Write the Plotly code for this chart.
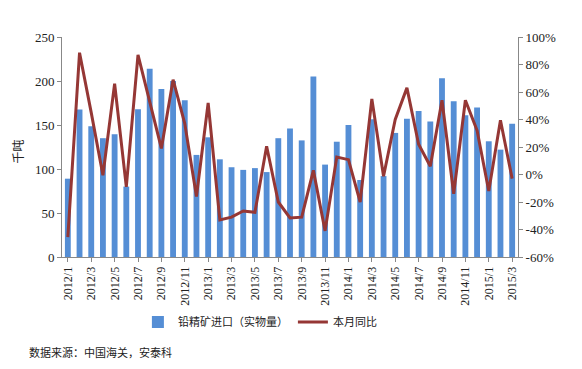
import plotly.graph_objects as go

months = []
for y in (2012, 2013, 2014):
    for m in range(1, 13):
        months.append(f"{y}/{m}")
months += ["2015/1", "2015/2", "2015/3"]

imports = [89, 167.5, 148.5, 135, 139.5, 80, 168, 214, 191, 200, 178, 116,
           136, 111, 102, 99, 101, 96.5, 135, 146, 132.5, 205, 105, 131,
           150, 87.5, 156.5, 92, 141, 157, 166, 154, 203, 177, 161, 170,
           131.5, 122, 151.5]

yoy = [-45.5, 88.6, 45, -0.6, 66, -9, 87, 53, 19, 69, 37, -16,
       52, -33, -31, -26.5, -27.5, 20.5, -20, -31.6, -31, 3, -41, 12.7,
       10.8, -20, 55, -1.3, 40, 63, 22, 6, 54, -14, 54, 32,
       -12, 39.4, -3]

bar_name = "铅精矿进口（实物量）"
line_name = "本月同比"

left_ticks = [0, 50, 100, 150, 200, 250]
right_ticks = [-60, -40, -20, 0, 20, 40, 60, 80, 100]

serif = "Liberation Serif"
cjk = "Noto Sans CJK SC"

fig = go.Figure()
fig.add_trace(go.Bar(x=months, y=imports, name=bar_name,
                     marker=dict(color="#558ED5", line=dict(width=0)),
                     yaxis="y"))
fig.add_trace(go.Scatter(x=months, y=yoy, name=line_name, mode="lines",
                         line=dict(color="#953735", width=3),
                         yaxis="y2"))

fig.update_layout(
    width=574, height=361,
    margin=dict(l=54, r=64, t=29, b=112),
    paper_bgcolor="white", plot_bgcolor="white",
    bargap=0.5,
    showlegend=True,
    legend=dict(orientation="h", x=0.434, xanchor="center", y=-0.295, yanchor="middle",
                font=dict(family=cjk, size=11, color="#222"),
                itemwidth=30, tracegroupgap=0, bgcolor="rgba(0,0,0,0)"),
    xaxis=dict(type="category", tickmode="array",
               tickvals=months[::2], ticktext=months[::2],
               tickangle=-90, tickfont=dict(family=serif, size=12, color="#222"),
               showline=True, linecolor="#888", linewidth=1,
               ticks="outside", ticklen=4, tickcolor="#888",
               showgrid=False, zeroline=False),
    yaxis=dict(range=[0, 250], tickvals=left_ticks,
               tickfont=dict(family=serif, size=13, color="#222"),
               showline=True, linecolor="#888", linewidth=1,
               ticks="outside", ticklen=4, tickcolor="#888",
               showgrid=False, zeroline=False),
    yaxis2=dict(range=[-60, 100], tickvals=right_ticks,
                ticktext=[f"{v}%" for v in right_ticks],
                overlaying="y", side="right",
                tickfont=dict(family=serif, size=13, color="#222"),
                showline=True, linecolor="#888", linewidth=1,
                ticks="outside", ticklen=4, tickcolor="#888",
                showgrid=False, zeroline=False),
    annotations=[
        dict(text="千吨", x=-0.0987, y=0.48, xref="paper", yref="paper",
             xanchor="center", yanchor="middle",
             textangle=-90, showarrow=False,
             font=dict(family=cjk, size=12, color="#222")),
        dict(text="数据来源：中国海关，安泰科", x=-0.0768, y=-0.432,
             xref="paper", yref="paper", xanchor="left", yanchor="middle",
             showarrow=False, font=dict(family=cjk, size=11, color="#222")),
    ],
)

fig.write_html("out.html")
